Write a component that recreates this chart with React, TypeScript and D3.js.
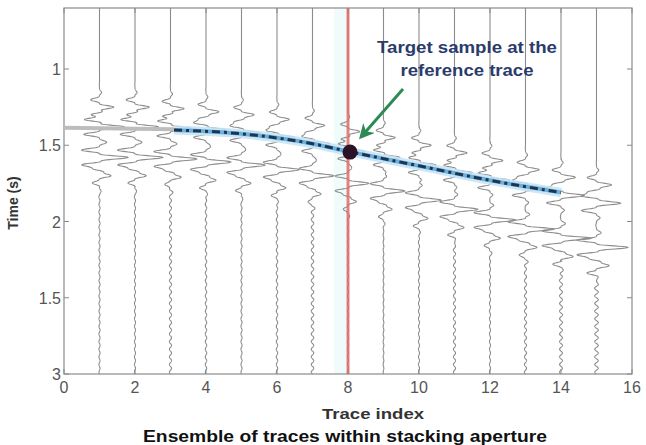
import * as d3 from 'd3';
import React, { useEffect, useRef } from 'react';

// Trace positions and event times (s)
const traceIndex = [1, 2, 3, 4, 5, 6, 7, 8, 9, 10, 11, 12, 13, 14, 15];
const precursorTime = [1.25, 1.25, 1.26, 1.28, 1.30, 1.33, 1.37, 1.41, 1.45, 1.50, 1.55, 1.60, 1.66, 1.71, 1.76];
const eventATime = [1.38, 1.38, 1.39, 1.40, 1.42, 1.45, 1.49, 1.54, 1.58, 1.63, 1.68, 1.73, 1.78, 1.83, 1.88];
const eventBTime = [1.58, 1.58, 1.59, 1.61, 1.63, 1.66, 1.70, 1.75, 1.80, 1.86, 1.92, 1.99, 2.05, 2.11, 2.17];
const precursorAmp = [0.4, 0.4, 0.38, 0.36, 0.35, 0.34, 0.34, 0.33, 0.33, 0.34, 0.35, 0.36, 0.38, 0.4, 0.42];
const eventAAmp = [0.7, 0.66, 0.6, 0.56, 0.52, 0.5, 0.48, 0.46, 0.46, 0.48, 0.5, 0.55, 0.6, 0.65, 0.68];
const eventBAmp = [0.8, 0.78, 0.74, 0.7, 0.66, 0.62, 0.6, 0.58, 0.6, 0.62, 0.66, 0.72, 0.8, 0.85, 0.88];
const rippleAmp = [0.015, 0.015, 0.03, 0.02, 0.015, 0.02, 0.035, 0.015, 0.01, 0.015, 0.03, 0.015, 0.03, 0.04, 0.05];

// Picked moveout curve (dashed)
const pickX = [3.1, 5, 7, 8, 10, 12, 14];
const pickT = [1.40, 1.425, 1.49, 1.54, 1.635, 1.73, 1.81];
const flatX = [0, 3.1];
const flatT = [1.385, 1.395];

const refTrace = 8;
const targetTime = 1.545;

const xTicks = [0, 2, 4, 6, 8, 10, 12, 14, 16];
const yTicks = [1, 1.5, 2, 2.5, 3];
const yTickLabels = ['1', '1.5', '2', '1.5', '3'];

const W = 646;
const H = 445;

const wavelet = (tau: number, amp: number) => {
  const env = Math.exp(-(tau * tau) / (2 * 0.05 * 0.05));
  const c = Math.cos((2 * Math.PI * tau) / 0.1);
  return amp * env * Math.sign(c) * Math.pow(Math.abs(c), 2.5);
};

const App: React.FC = () => {
  const svgRef = useRef<SVGSVGElement>(null);

  useEffect(() => {
    if (!svgRef.current) return;
    const svg = d3.select(svgRef.current);
    svg.selectAll('*').remove();

    const x = d3.scaleLinear().domain([0, 16]).range([64, 632]);
    const y = d3.scaleLinear().domain([0.6, 3]).range([8, 374]);
    const font = 'Arial, "Liberation Sans", sans-serif';

    svg.append('rect').attr('width', W).attr('height', H).attr('fill', '#fff');

    // faint cyan band beside reference trace
    svg.append('rect')
      .attr('x', x(refTrace) - 14).attr('y', y(0.6))
      .attr('width', 12).attr('height', y(3) - y(0.6))
      .attr('fill', '#f0fbfb');

    // traces
    const times = d3.range(0.6, 3.0001, 0.002);
    const line = d3.line<[number, number]>().x(d => d[0]).y(d => d[1]);
    traceIndex.forEach((tr, i) => {
      const pts: [number, number][] = times.map(t => {
        let v = wavelet(t - precursorTime[i], precursorAmp[i])
          + wavelet(t - eventATime[i], eventAAmp[i])
          + wavelet(t - eventBTime[i], eventBAmp[i])
          + wavelet(t - eventBTime[i] - 0.12, eventBAmp[i] * 0.4);
        if (t > eventBTime[i] + 0.15) v += rippleAmp[i] * Math.sin((2 * Math.PI * t) / 0.05);
        return [x(tr + v), y(t)];
      });
      svg.append('path')
        .attr('d', line(pts))
        .attr('fill', 'none')
        .attr('stroke', '#8c8c8c')
        .attr('stroke-width', 1.1);
    });

    // frame + ticks
    svg.append('rect')
      .attr('x', x(0)).attr('y', y(0.6))
      .attr('width', x(16) - x(0)).attr('height', y(3) - y(0.6))
      .attr('fill', 'none').attr('stroke', '#8a8a8a').attr('stroke-width', 1.2);

    xTicks.forEach(v => {
      svg.append('line').attr('x1', x(v)).attr('x2', x(v)).attr('y1', y(3)).attr('y2', y(3) - 5)
        .attr('stroke', '#8a8a8a');
      svg.append('line').attr('x1', x(v)).attr('x2', x(v)).attr('y1', y(0.6)).attr('y2', y(0.6) + 5)
        .attr('stroke', '#8a8a8a');
      svg.append('text')
        .attr('x', x(v)).attr('y', y(3) + 19)
        .attr('text-anchor', 'middle')
        .attr('font-family', font).attr('font-size', 16)
        .attr('fill', '#555')
        .text(String(v));
    });
    yTicks.forEach((v, i) => {
      svg.append('line').attr('x1', x(0)).attr('x2', x(0) + 5).attr('y1', y(v)).attr('y2', y(v))
        .attr('stroke', '#8a8a8a');
      svg.append('line').attr('x1', x(16)).attr('x2', x(16) - 5).attr('y1', y(v)).attr('y2', y(v))
        .attr('stroke', '#8a8a8a');
      svg.append('text')
        .attr('x', x(0) - 3).attr('y', y(v) + 6)
        .attr('text-anchor', 'end')
        .attr('font-family', font).attr('font-size', 16)
        .attr('fill', '#555')
        .text(yTickLabels[i]);
    });

    // flat gray highlight on the left
    svg.append('path')
      .attr('d', d3.line<number>().x(d => x(d)).y((_, j) => y(flatT[j]))(flatX))
      .attr('stroke', '#bdbdbd').attr('stroke-width', 4).attr('fill', 'none');

    // picked moveout: light blue glow + dark dashes
    const pickLine = d3.line<number>().x(d => x(d)).y((_, j) => y(pickT[j])).curve(d3.curveMonotoneX);
    svg.append('path').attr('d', pickLine(pickX))
      .attr('stroke', '#c4e3f5').attr('stroke-width', 9).attr('fill', 'none').attr('opacity', 0.85);
    svg.append('path').attr('d', pickLine(pickX))
      .attr('stroke', '#6cb0dc').attr('stroke-width', 4).attr('fill', 'none');
    svg.append('path').attr('d', pickLine(pickX))
      .attr('stroke', '#1d3550').attr('stroke-width', 3).attr('fill', 'none')
      .attr('stroke-dasharray', '8,4,3,4');

    // reference trace
    svg.append('line')
      .attr('x1', x(refTrace)).attr('x2', x(refTrace))
      .attr('y1', y(0.6)).attr('y2', y(3))
      .attr('stroke', '#dc6e68').attr('stroke-width', 3).attr('opacity', 0.85);

    // target sample
    svg.append('circle')
      .attr('cx', x(refTrace) + 2).attr('cy', y(targetTime))
      .attr('r', 7.5).attr('fill', '#2b1226');

    // annotation
    const defs = svg.append('defs');
    defs.append('marker')
      .attr('id', 'arrowHead').attr('viewBox', '0 0 10 10')
      .attr('refX', 8).attr('refY', 5)
      .attr('markerWidth', 5).attr('markerHeight', 5)
      .attr('orient', 'auto')
      .append('path').attr('d', 'M0,0 L10,5 L0,10 L3,5 Z').attr('fill', '#2e8a55');
    svg.append('line')
      .attr('x1', 403).attr('y1', 89).attr('x2', 361).attr('y2', 137)
      .attr('stroke', '#2e8a55').attr('stroke-width', 3)
      .attr('marker-end', 'url(#arrowHead)');

    svg.append('text')
      .attr('x', 467).attr('y', 53).attr('text-anchor', 'middle')
      .attr('font-family', font).attr('font-size', 17).attr('font-weight', 'bold')
      .attr('textLength', 180).attr('lengthAdjust', 'spacingAndGlyphs')
      .attr('fill', '#2b3b6b').text('Target sample at the');
    svg.append('text')
      .attr('x', 467).attr('y', 76).attr('text-anchor', 'middle')
      .attr('font-family', font).attr('font-size', 17).attr('font-weight', 'bold')
      .attr('textLength', 133).attr('lengthAdjust', 'spacingAndGlyphs')
      .attr('fill', '#2b3b6b').text('reference trace');

    // axis titles
    svg.append('text')
      .attr('transform', `translate(18, 203) rotate(-90)`)
      .attr('text-anchor', 'middle')
      .attr('font-family', font).attr('font-size', 14).attr('font-weight', 'bold')
      .attr('fill', '#333').text('Time (s)');
    svg.append('text')
      .attr('x', 373).attr('y', 419).attr('text-anchor', 'middle')
      .attr('font-family', font).attr('font-size', 15).attr('font-weight', 'bold')
      .attr('textLength', 102).attr('lengthAdjust', 'spacingAndGlyphs')
      .attr('fill', '#333').text('Trace index');
    svg.append('text')
      .attr('x', 345).attr('y', 442).attr('text-anchor', 'middle')
      .attr('font-family', font).attr('font-size', 16).attr('font-weight', 'bold')
      .attr('textLength', 404).attr('lengthAdjust', 'spacingAndGlyphs')
      .attr('fill', '#111').text('Ensemble of traces within stacking aperture');
  }, []);

  return (
    <svg
      ref={svgRef}
      width={W}
      height={H}
      style={{ position: 'absolute', left: 0, top: 0 }}
    />
  );
};

export default App;
